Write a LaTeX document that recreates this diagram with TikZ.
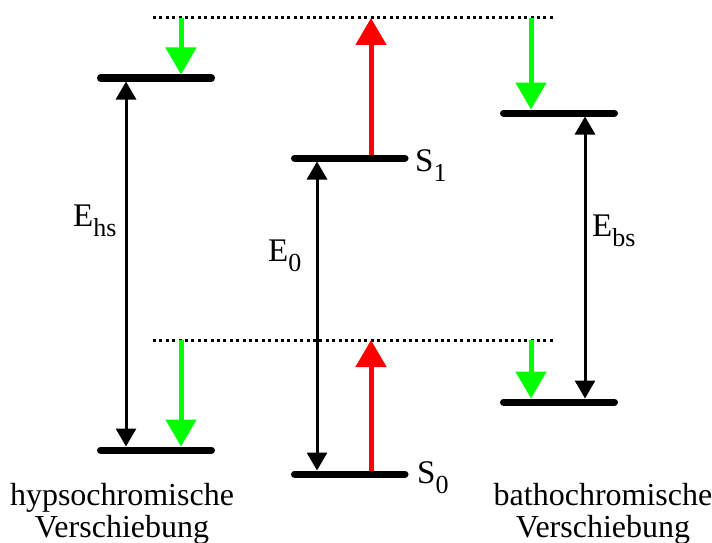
\documentclass[tikz,border=0pt]{standalone}
\usepackage{fontspec}
\setmainfont{Liberation Serif}
\usetikzlibrary{arrows.meta, positioning}
\definecolor{emitgreen}{RGB}{0,255,0}
\definecolor{absorbred}{RGB}{255,0,0}
\newcommand{\lowidx}[1]{\raisebox{-10pt}{\fontsize{26}{26}\selectfont #1}}

\begin{document}
\begin{tikzpicture}[
    x=1pt, y=-1pt,
    level/.style={line width=7pt, line cap=round, black},
    virtual/.style={line width=3pt, dash pattern=on 3pt off 3.4pt},
    gap/.style={{Triangle[width=20pt, length=18pt]}-{Triangle[width=20pt, length=18pt]}, line width=3pt, shorten <=3.5pt, shorten >=3.5pt},
    emission/.style={-{Triangle[width=30pt, length=27pt]}, line width=5pt, emitgreen, shorten >=3.5pt},
    absorption/.style={-{Triangle[width=30pt, length=27pt]}, line width=5pt, absorbred},
    lbl/.style={font=\fontsize{33}{33}\selectfont, inner sep=0pt, anchor=base west},
    caption/.style={font=\fontsize{32}{32}\selectfont, align=center, inner sep=0pt, anchor=north}
]
\useasboundingbox (0,0) rectangle (712,543);

% Virtual levels
\coordinate (vtopL) at (153,18);
\coordinate (vtopR) at (553,18);
\coordinate (vlowL) at (153,340);
\coordinate (vlowR) at (553,340);
\draw[virtual] (vtopL) -- (vtopR);
\draw[virtual] (vlowL) -- (vlowR);

% Arrow ends
\coordinate (hsEup) at (126,78);
\coordinate (hsElow) at (126,450);
\coordinate (hsGtop) at (181,18);
\coordinate (hsGup) at (181,78);
\coordinate (hsGmid) at (181,340);
\coordinate (hsGlow) at (181,450);
\coordinate (sEup) at (317,158);
\coordinate (sElow) at (317,474);
\coordinate (sRup) at (371,158);
\coordinate (sRtop) at (371,18);
\coordinate (sRlow) at (371,474);
\coordinate (sRmid) at (371,340);
\coordinate (bsGtop) at (531,18);
\coordinate (bsGup) at (531,113);
\coordinate (bsGmid) at (531,340);
\coordinate (bsGlow) at (531,402);
\coordinate (bsEup) at (585,113);
\coordinate (bsElow) at (585,402);

% Arrows
\draw[gap] (hsElow) -- (hsEup);
\draw[emission] (hsGtop) -- (hsGup);
\draw[emission] (hsGmid) -- (hsGlow);
\draw[gap] (sElow) -- (sEup);
\draw[absorption] (sRup) -- (sRtop);
\draw[absorption] (sRlow) -- (sRmid);
\draw[emission] (bsGtop) -- (bsGup);
\draw[emission] (bsGmid) -- (bsGlow);
\draw[gap] (bsElow) -- (bsEup);

% Levels
\draw[level] (100.5,78) -- (211.5,78);
\draw[level] (100.5,450) -- (211.5,450);
\draw[level] (294.5,158) -- (405,158);
\draw[level] (294.5,474) -- (405,474);
\draw[level] (503.5,113) -- (614.5,113);
\draw[level] (503.5,402) -- (614.5,402);

% Labels
\node[lbl] (ehs) at (73,226) {E\lowidx{hs}};
\node[lbl] (ezero) at (268,261) {E\lowidx{0}};
\node[lbl] (ebs) at (592,236) {E\lowidx{bs}};
\node[lbl] (sone) at (415,171) {S\lowidx{1}};
\node[lbl] (szero) at (417,483) {S\lowidx{0}};
\node[caption] (hypso) at (122,483) {hypsochromische\\Verschiebung};
\node[caption] (batho) at (603,483) {bathochromische\\Verschiebung};

\end{tikzpicture}
\end{document}
